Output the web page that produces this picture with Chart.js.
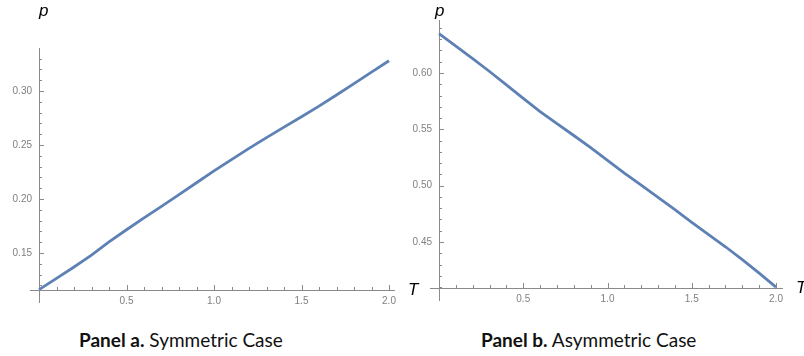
<!DOCTYPE html>
<html>
<head>
<meta charset="utf-8">
<script src="https://cdn.jsdelivr.net/npm/chart.js@4"></script>
<style>
  body { margin: 0; background: #fff; }
  #wrap { position: relative; width: 804px; height: 356px; overflow: hidden; }
  canvas { position: absolute; top: 0; }
  #cvs_a { left: 0; }
  #cvs_b { left: 400px; }
  .legenda {
    position: absolute; top: 328px; line-height: 24px;
    font-family: Lato, "Open Sans", sans-serif; font-size: 19px; color: #111;
    white-space: nowrap;
  }
  .legenda b { font-weight: bold; }
</style>
</head>
<body>
<div id="wrap">
  <canvas id="cvs_a" width="420" height="312"></canvas>
  <canvas id="cvs_b" width="404" height="312"></canvas>
  <div class="legenda" style="left:79px"><b>Panel a.</b> Symmetric Case</div>
  <div class="legenda" style="left:481px"><b>Panel b.</b> Asymmetric Case</div>
</div>
<script>
// eixo T (comum aos dois paineis)
const valoresT = [0, 0.1, 0.2, 0.3, 0.4, 0.5, 0.6, 0.7, 0.8, 0.9, 1.0,
                  1.1, 1.2, 1.3, 1.4, 1.5, 1.6, 1.7, 1.8, 1.9, 2.0];

// Painel a: caso simetrico
const pSimetrico = [0.116, 0.1265, 0.137, 0.148, 0.1602, 0.1715, 0.1825, 0.1932, 0.204, 0.215, 0.226,
                    0.2365, 0.2468, 0.2568, 0.2665, 0.2762, 0.286, 0.2963, 0.3068, 0.3174, 0.328];

// Painel b: caso assimetrico
const pAssimetrico = [0.635, 0.6238, 0.6128, 0.6013, 0.5895, 0.5775, 0.5658, 0.555, 0.5445, 0.5338, 0.5225,
                      0.5112, 0.5005, 0.4897, 0.4787, 0.4675, 0.4566, 0.4458, 0.4343, 0.4224, 0.410];

// marcas dos eixos
const ticksT = [0.5, 1.0, 1.5, 2.0];
const ticksA = [0.15, 0.20, 0.25, 0.30];
const ticksB = [0.45, 0.50, 0.55, 0.60];

const corLinha = "#5e81b5";
const corEixo = "#8a8a8a";
const corRotulo = "#808080";

// Plugin que desenha os eixos no estilo do Mathematica (marcas para dentro)
const eixosPlugin = {
    id: "eixos",
    beforeDatasetsDraw(chart, args, o) {
        const { ctx, scales: { x, y } } = chart;
        const x0 = x.getPixelForValue(0);
        const y0 = y.getPixelForValue(y.min);
        ctx.save();
        ctx.strokeStyle = corEixo;
        ctx.lineWidth = 1;

        // linhas dos eixos
        ctx.beginPath();
        ctx.moveTo(x0 - 9, y0 + 0.5);
        ctx.lineTo(x.right + o.extraX, y0 + 0.5);
        ctx.moveTo(x0 + 0.5, y0 + 13);
        ctx.lineTo(x0 + 0.5, y.top);
        ctx.stroke();

        // marcas menores e maiores do eixo T
        ctx.beginPath();
        for (let i = 1; i <= 20; i++) {
            const px = Math.round(x.getPixelForValue(i / 10)) + 0.5;
            const len = i % 5 === 0 ? 5 : 3;
            ctx.moveTo(px, y0);
            ctx.lineTo(px, y0 - len);
        }
        // marcas do eixo p
        const passo = 0.01;
        let v = Math.ceil(y.min / passo) * passo;
        for (; v <= y.max; v += passo) {
            const py = Math.round(y.getPixelForValue(v)) + 0.5;
            const maior = Math.abs(v * 20 - Math.round(v * 20)) < 1e-6;
            ctx.moveTo(x0, py);
            ctx.lineTo(x0 + (maior ? 5 : 3), py);
        }
        ctx.stroke();

        // rotulos
        ctx.fillStyle = corRotulo;
        ctx.font = "10px 'Liberation Sans', Arial, sans-serif";
        ctx.textAlign = "center";
        ctx.textBaseline = "middle";
        ticksT.forEach(t => {
            ctx.fillText(t.toFixed(1), x.getPixelForValue(t), y0 + 11);
        });
        ctx.textAlign = "right";
        o.ticksY.forEach(t => {
            ctx.fillText(t.toFixed(2), x0 - 7, y.getPixelForValue(t));
        });

        // nomes dos eixos
        ctx.fillStyle = "#000";
        ctx.font = "italic 17px 'Liberation Sans', Arial, sans-serif";
        ctx.textAlign = "left";
        ctx.fillText("p", x0 + o.dxP, 11);
        ctx.fillText("T", x.right + o.dxT, y0);
        ctx.restore();
    }
};

function criarPainel(canvas, dados, yMin, yMax, ticksY, padding, dxP, dxT, extraX) {
    return new Chart(canvas, {
        type: "line",
        data: {
            labels: valoresT,
            datasets: [{
                data: valoresT.map((t, i) => ({ x: t, y: dados[i] })),
                borderColor: corLinha,
                borderWidth: 2.8,
                pointRadius: 0,
                tension: 0,
                fill: false,
                clip: false
            }]
        },
        options: {
            responsive: false,
            animation: false,
            layout: { padding: padding },
            plugins: {
                legend: { display: false },
                tooltip: { enabled: false },
                eixos: { ticksY: ticksY, dxP: dxP, dxT: dxT, extraX: extraX }
            },
            scales: {
                x: { type: "linear", min: 0, max: 2, display: false },
                y: { min: yMin, max: yMax, display: false }
            }
        },
        plugins: [eixosPlugin]
    });
}

criarPainel(document.getElementById("cvs_a"), pSimetrico, 0.1157, 0.3398, ticksA,
    { left: 39, right: 31, top: 48, bottom: 22 }, 0, 19, 6);
criarPainel(document.getElementById("cvs_b"), pAssimetrico, 0.4092, 0.647, ticksB,
    { left: 39, right: 28, top: 20, bottom: 24 }, -4, 20, 7);
</script>
</body>
</html>
